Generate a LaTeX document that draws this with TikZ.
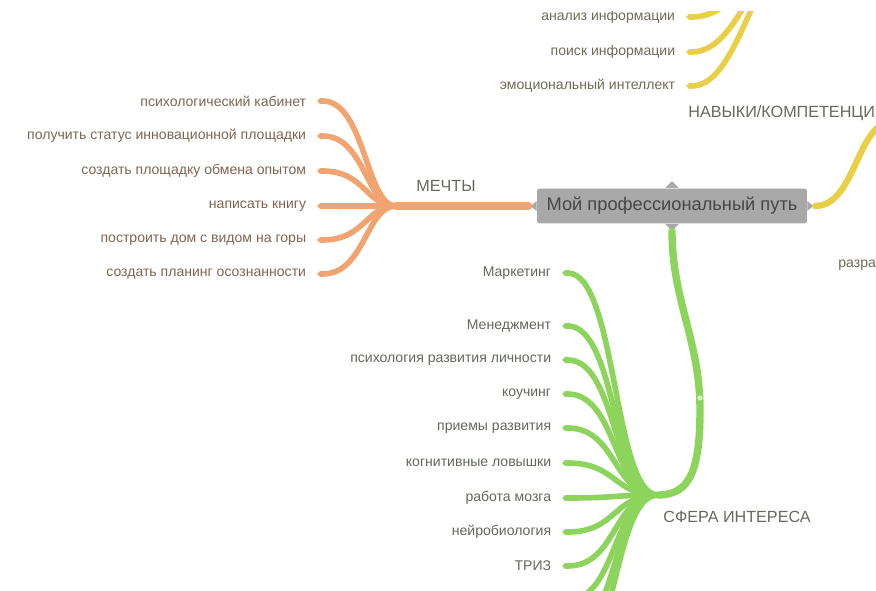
\documentclass[tikz,border=0pt]{standalone}
\usepackage{fontspec}
\setmainfont{Liberation Sans}
\usetikzlibrary{arrows.meta, positioning, calc}
\definecolor{dreamorange}{RGB}{242,164,112}
\definecolor{interestgreen}{RGB}{141,212,92}
\definecolor{skillyellow}{RGB}{232,207,70}
\definecolor{dreamtext}{RGB}{128,100,82}
\definecolor{interesttext}{RGB}{98,104,92}
\definecolor{skilltext}{RGB}{112,106,86}
\definecolor{cattext}{RGB}{104,104,96}
\definecolor{coregray}{RGB}{168,168,168}

\begin{document}
\begin{tikzpicture}[x=0.02cm, y=-0.02cm,
    every node/.style={font=\fontsize{8}{9}\selectfont},
    corebox/.style={fill=coregray, rounded corners=1.5pt, minimum width=5.4cm,
      minimum height=0.7cm, text=black!72, font=\fontsize{10.4}{12}\selectfont},
    catlabel/.style={text=cattext, font=\fontsize{9.2}{11}\selectfont},
    leaflabel/.style={anchor=east, inner xsep=6pt},
    stem/.style={line width=4.2pt, line cap=round},
    leafline/.style={line width=3.2pt, -{Triangle Cap[]}}]
  \useasboundingbox (0,0) rectangle (876,591);
  \clip (0,12) rectangle (876,591);

  % centre
  \node[corebox] (core) at (672,206) {Мой профессиональный путь};
  \fill[coregray] ($(core.north)+(-7,0)$) -- ($(core.north)+(0,-7)$) -- ($(core.north)+(7,0)$) -- cycle;
  \fill[coregray] ($(core.south)+(-7,0)$) -- ($(core.south)+(0,7)$) -- ($(core.south)+(7,0)$) -- cycle;
  \fill[coregray] ($(core.east)+(0,-5)$) -- ($(core.east)+(6,0)$) -- ($(core.east)+(0,5)$) -- cycle;
  \fill[coregray] ($(core.west)+(0,-5)$) -- ($(core.west)+(-6,0)$) -- ($(core.west)+(0,5)$) -- cycle;

  % dreams
  \coordinate (dreamhub) at (396,206);
  \draw[stem, dreamorange] ($(core.west)+(-8,0)$) -- (dreamhub);
  \node[catlabel] (dreams) at (446,186) {МЕЧТЫ};
  \foreach \i/\y/\txt in {
      1/101/психологический кабинет,
      2/136/получить статус инновационной площадки,
      3/171/создать площадку обмена опытом,
      4/206/написать книгу,
      5/240/построить дом с видом на горы,
      6/274/создать планинг осознанности}{
    \node[leaflabel, text=dreamtext] (d\i) at (317,\y) {\txt};
    \draw[leafline, dreamorange] (dreamhub) .. controls +(-30,0) and +(48,0) .. (d\i.east);
  }

  % skills
  \coordinate (skillhub) at (800,-50);
  \coordinate (skillstem) at (892,122);
  \draw[stem, line width=3.6pt, skillyellow] ($(core.east)+(8,0)$) .. controls +(40,0) and +(-35,0) .. (skillstem);
  \node[catlabel, anchor=west, inner xsep=0pt] (skills) at (688,113) {НАВЫКИ/КОМПЕТЕНЦИ};
  \foreach \i/\y/\txt in {
      1/17/анализ информации,
      2/52/поиск информации,
      3/86/эмоциональный интеллект}{
    \node[leaflabel, text=skilltext] (s\i) at (686,\y) {\txt};
    \draw[leafline, skillyellow] (skillhub) .. controls +(-45,0) and +(55,0) .. (s\i.east);
  }
  \node[anchor=west, inner xsep=0pt, text=skilltext] (s4) at (838,265) {разра};

  % interests
  \coordinate (interesthub) at (658,495);
  \coordinate (bend) at (700,410);
  \draw[stem, interestgreen] ($(core.south)+(0,7)$) .. controls +(0,70) and +(0,-70) .. (bend)
    .. controls +(0,60) and +(32,0) .. (interesthub);
  \fill[interestgreen!35!white] (700,398) circle (2.6);
  \node[catlabel] (interests) at (737,517) {СФЕРА ИНТЕРЕСА};
  \foreach \i/\y/\txt in {
      1/273/Маркетинг,
      2/326/Менеджмент,
      3/360/психология развития личности,
      4/394/коучинг,
      5/428/приемы развития,
      6/463/когнитивные ловышки,
      7/498/работа мозга,
      8/532/нейробиология,
      9/566/ТРИЗ}{
    \node[leaflabel, text=interesttext] (g\i) at (562,\y) {\txt};
    \draw[leafline, interestgreen] (interesthub) .. controls +(-45,0) and +(55,0) .. (g\i.east);
  }
  \foreach \i/\y in {10/600, 11/634, 12/668}{
    \coordinate (g\i) at (562,\y);
    \draw[leafline, interestgreen] (interesthub) .. controls +(-45,0) and +(55,0) .. (g\i);
  }
\end{tikzpicture}
\end{document}
